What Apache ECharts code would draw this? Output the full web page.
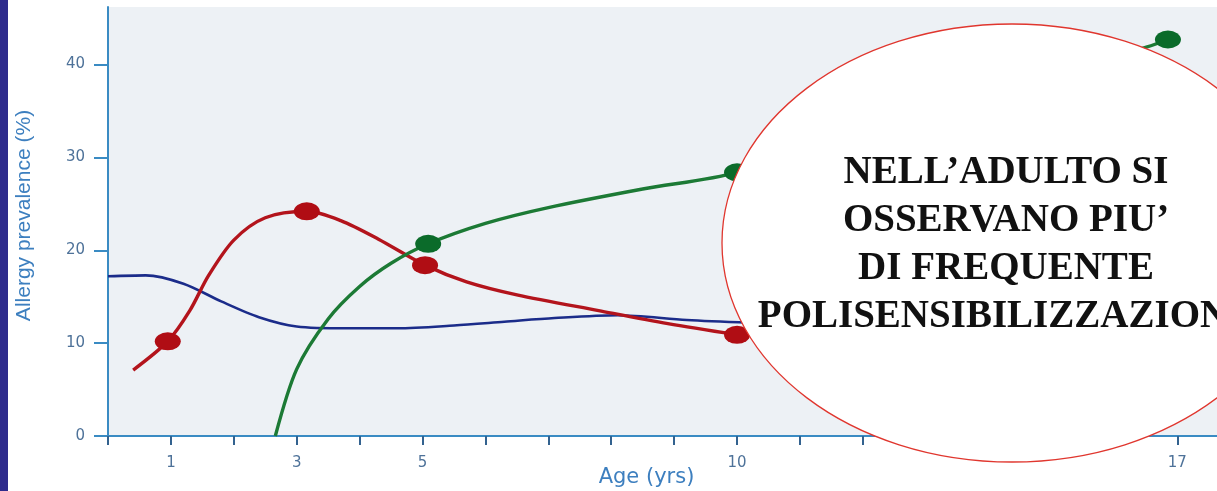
<!DOCTYPE html>
<html>
<head>
<meta charset="utf-8">
<script src="https://cdn.jsdelivr.net/npm/echarts@6/dist/echarts.min.js"></script>
<style>
html,body{margin:0;padding:0;background:#fff;}
#chart{width:1217px;height:491px;}
</style>
</head>
<body>
<div id="chart"></div>
<script>
// ---- data (age in years, prevalence in %) ----
const xTickValues = [0,1,2,3,4,5,6,7,8,9,10,11,12,13,14,15,16,17];
const xLabelValues = [1,3,5,10,17];
const yTickValues = [0,10,20,30,40];

const blueLine = [[0,17.2],[0.6,17.3],[1.2,16.4],[1.8,14.5],[2.4,12.8],[3.0,11.8],[3.8,11.6],[4.6,11.6],[5.5,11.9],[6.3,12.3],[7.1,12.7],[8.1,13.0],[9.2,12.5],[10.2,12.2]];

const redLine = [[0.4,7.1],[0.95,10.2],[1.3,13.5],[1.6,17.3],[2.0,21.1],[2.5,23.5],[3.16,24.2],[3.7,23.2],[4.3,21.2],[5.04,18.4],[5.7,16.6],[6.5,15.2],[7.8,13.5],[8.9,12.1],[10,10.9]];
const redPoints = [[0.95,10.2],[3.16,24.2],[5.04,18.4],[10,10.9]];

const greenLine = [[2.66,0],[3.0,7.2],[3.5,12.6],[4.0,16.1],[4.5,18.6],[5.09,20.7],[6.0,22.9],[7.0,24.6],[8.5,26.6],[10,28.4],[16.52,41.9],[16.85,42.7]];
const greenPoints = [[5.09,20.7],[10,28.4],[16.85,42.7]];

const yName = 'Allergy prevalence (%)';
const xName = 'Age (yrs)';
const noteText = 'NELL\u2019ADULTO SI\nOSSERVANO PIU\u2019\nDI FREQUENTE\nPOLISENSIBILIZZAZIONE';

const chart = echarts.init(document.getElementById('chart'), null, {renderer:'canvas'});
const labelColor = '#4e7299';
const axisBlue = '#3a8bc3';

chart.setOption({
  animation: false,
  backgroundColor: '#ffffff',
  grid: {left:108, right:0, top:7, bottom:55, show:true, backgroundColor:'#edf1f5', borderWidth:0,
    containLabel:false, outerBoundsMode:'none'},
  xAxis: {
    type:'value', min:0, max:17.63, interval:1,
    name: xName, nameLocation:'middle', nameGap:31, nameMoveOverlap:false,
    nameTextStyle:{color:'#3d7fbf', fontSize:21, fontFamily:'DejaVu Sans', padding:[0,32,0,0]},
    axisLine:{show:true, lineStyle:{color:axisBlue, width:2}},
    axisTick:{show:true, customValues:xTickValues, length:9, lineStyle:{color:'#33628f', width:2}},
    axisLabel:{customValues:xLabelValues, margin:20, fontSize:15, color:labelColor, fontFamily:'DejaVu Sans',
      formatter:v => xLabelValues.indexOf(v) >= 0 ? String(v) : ''},
    splitLine:{show:false}
  },
  yAxis: {
    type:'value', min:0, max:46.2, interval:10,
    name: yName, nameLocation:'middle', nameRotate:90, nameGap:73, nameMoveOverlap:false,
    nameTextStyle:{color:'#3d7fbf', fontSize:21, fontFamily:'Liberation Sans', padding:[0,0,0,12]},
    axisLine:{show:true, lineStyle:{color:axisBlue, width:2}},
    axisTick:{show:true, customValues:yTickValues, length:14, lineStyle:{color:axisBlue, width:2}},
    axisLabel:{customValues:yTickValues, margin:23, fontSize:15, color:labelColor, fontFamily:'DejaVu Sans',
      formatter:v => yTickValues.indexOf(v) >= 0 ? String(v) : ''},
    splitLine:{show:false}
  },
  series: [
    {type:'line', data:blueLine, smooth:0.3, showSymbol:false, lineStyle:{color:'#1b2c8a', width:2.6}, z:2},
    {type:'line', data:redLine, smooth:0.3, showSymbol:false, lineStyle:{color:'#b3141c', width:3.4}, z:3},
    {type:'line', data:greenLine, smooth:0.3, showSymbol:false, lineStyle:{color:'#1c7a35', width:3.4}, z:4},
    {type:'scatter', data:redPoints, symbol:'circle', symbolSize:[26,18], itemStyle:{color:'#b00d14', opacity:1}, z:5},
    {type:'scatter', data:greenPoints, symbol:'circle', symbolSize:[26,18], itemStyle:{color:'#0b6b2a', opacity:1}, z:6}
  ],
  graphic: [
    {type:'rect', left:0, top:0, shape:{x:0, y:0, width:8, height:491}, style:{fill:'#2e2b8c'}, z:50},
    {type:'ellipse', shape:{cx:1012, cy:243, rx:290, ry:219}, style:{fill:'#ffffff', stroke:'#e0362e', lineWidth:1.3}, z:100},
    {type:'text', x:1006, y:244.5, z:101,
      style:{text:noteText, font:'bold 39px "Liberation Serif", "Times New Roman", serif', fill:'#111111',
        align:'center', verticalAlign:'middle', lineHeight:48}}
  ]
});
</script>
</body>
</html>
